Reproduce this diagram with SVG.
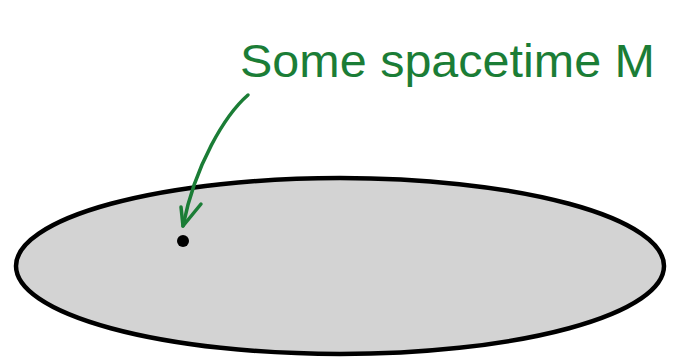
<svg xmlns="http://www.w3.org/2000/svg" width="677" height="364" viewBox="0 0 677 364">
<style>
.lbl{font-family:"Liberation Sans",Arial,sans-serif;font-size:46px;fill:#1b7d36}
.arr{fill:none;stroke:#1b7d36;stroke-width:3.5;stroke-linecap:round;stroke-linejoin:round}
</style>
<rect width="677" height="364" fill="#ffffff"/>
<g id="spacetime">
<ellipse cx="340" cy="266" rx="324" ry="88" fill="#d3d3d3" stroke="#000" stroke-width="4.5"/>
</g>
<g id="point">
<circle cx="183" cy="241" r="6" fill="#000"/>
</g>
<g id="label">
<text class="lbl" x="240" y="77" textLength="415" lengthAdjust="spacingAndGlyphs">Some spacetime M</text>
</g>
<g id="connectors">
<path class="arr" d="M248 95 C225 115 195 165 183 226"/>
<path class="arr" d="M181 207 L183 226 L201 204"/>
</g>
</svg>
